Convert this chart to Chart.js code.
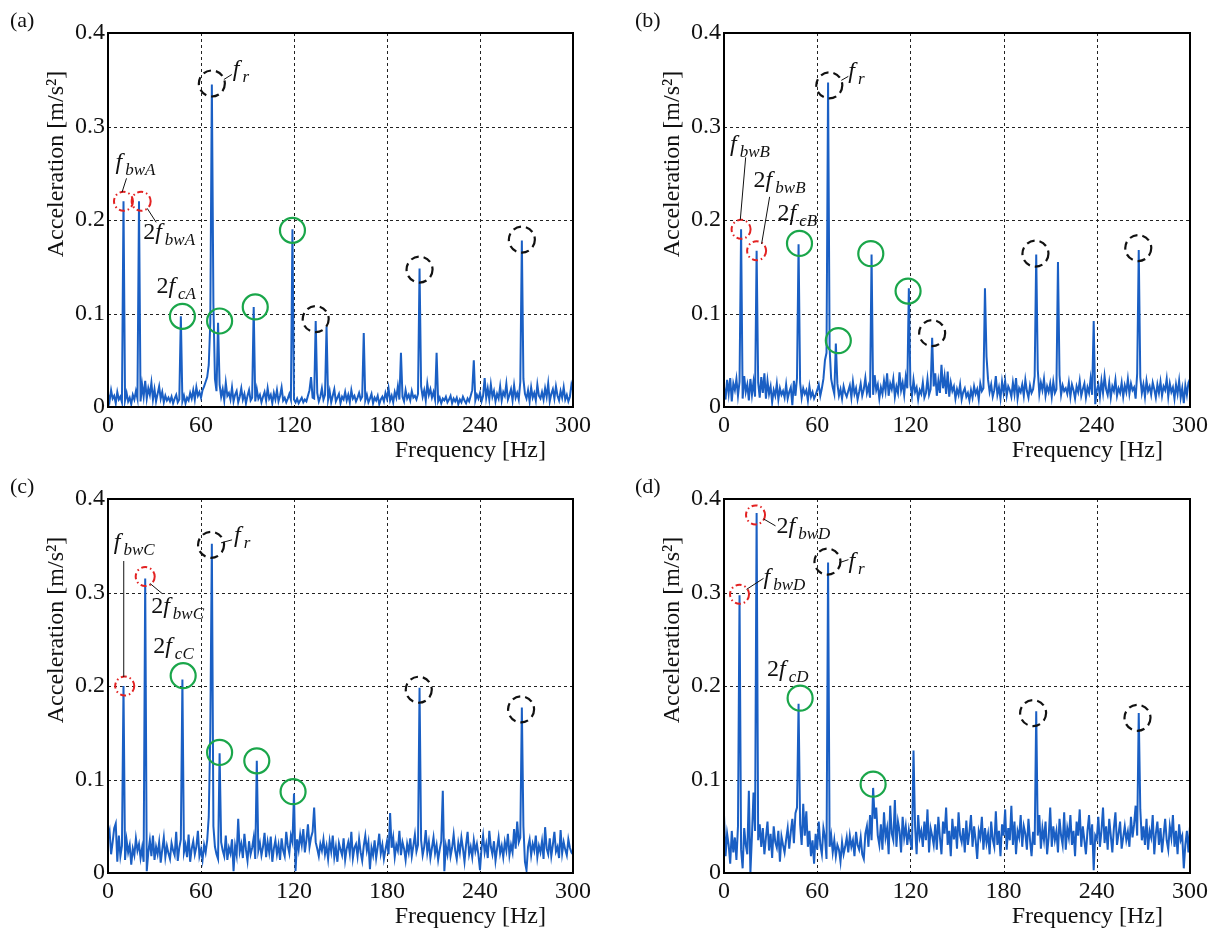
<!DOCTYPE html>
<html>
<head>
<meta charset="utf-8">
<script src="https://cdn.jsdelivr.net/npm/chart.js@4.4.0/dist/chart.umd.min.js"></script>
<style>
  body { margin: 0; background: #fff; width: 1220px; height: 932px; overflow: hidden; position: relative; }
  canvas { position: absolute; }
</style>
</head>
<body>
<canvas id="pa"></canvas>
<canvas id="pb"></canvas>
<canvas id="pc"></canvas>
<canvas id="pd"></canvas>
<script>
// ── spectrum data ─────────────────────────────────────────
// noise floor in 1 Hz bins, 0..300 Hz, unit 1e-3 m/s^2
const noiseA = [
  14,6,18,9,12,4,16,8,11,5,12,7,15,6,10,3,13,8,17,9,
  12,6,24,11,28,9,20,13,26,8,19,6,14,22,9,16,5,12,7,10,
  6,11,4,9,13,5,8,14,6,12,4,10,7,15,9,18,8,21,12,16,
  10,18,22,27,32,45,90,60,110,30,17,9,24,11,19,7,26,12,15,8,
  21,6,13,17,5,11,20,8,14,4,12,18,7,10,15,6,19,9,13,5,
  11,16,7,20,9,13,4,15,8,18,6,12,21,7,10,5,9,14,8,6,
  8,5,9,4,7,10,5,8,6,12,18,32,10,9,7,15,6,11,20,8,
  13,9,8,17,5,12,19,6,10,14,4,11,8,16,7,13,5,18,9,12,
  6,10,15,8,11,9,7,13,5,9,14,4,10,7,12,3,8,11,6,15,
  9,20,7,12,5,16,10,22,8,14,11,6,18,9,13,7,17,10,12,8,
  14,9,22,11,18,7,25,13,19,10,16,8,12,6,10,4,9,7,11,5,
  8,12,4,9,6,10,3,8,5,11,7,4,9,6,12,18,10,7,13,9,
  15,6,12,31,10,20,8,24,11,17,6,14,9,22,7,16,12,25,8,13,
  19,7,23,10,15,8,27,11,30,14,9,18,6,21,10,15,7,24,12,9,
  16,8,20,11,25,6,14,19,9,22,12,7,17,10,21,8,13,6,11,24,
  18
];
const noiseB = [
  22,8,29,14,31,6,25,18,30,12,27,20,9,33,16,24,7,30,13,27,
  11,19,26,10,32,15,36,9,28,14,22,5,18,12,25,8,20,13,17,10,
  24,9,16,21,2,28,12,31,15,26,10,20,14,18,7,22,11,16,9,13,
  18,24,12,20,30,50,58,40,62,30,21,14,30,25,12,19,9,22,15,11,
  17,23,10,27,14,20,8,16,25,12,19,31,15,22,10,27,13,34,18,24,
  9,21,14,28,17,36,12,25,19,30,11,22,15,37,18,26,13,32,20,16,
  24,12,29,16,21,8,18,14,26,10,15,30,13,19,17,22,36,12,28,15,
  45,20,33,14,38,11,26,17,22,9,19,13,24,8,16,20,11,15,7,18,
  10,22,14,19,8,25,17,20,20,54,29,16,24,11,18,33,13,21,9,27,
  15,28,12,22,18,11,26,14,31,9,20,16,24,12,29,17,10,23,15,19,
  33,21,40,14,26,18,30,12,22,16,25,11,27,15,19,21,34,13,23,17,
  20,14,26,11,24,18,9,22,16,28,12,19,25,10,21,15,30,13,22,3,
  18,24,11,28,15,33,19,13,26,10,22,17,29,12,20,15,26,11,23,16,
  30,14,25,18,21,9,36,28,32,15,24,11,28,17,22,13,26,19,10,24,
  15,27,12,22,18,30,11,25,16,21,9,24,14,28,10,20,4,23,13,26,
  30
];
const noiseC = [
  38,45,20,33,48,53,12,40,18,29,24,14,35,22,30,9,26,19,37,24,
  31,16,27,12,20,2,22,35,18,40,14,28,20,33,11,25,38,17,29,21,
  15,32,24,19,44,13,27,36,25,22,30,17,41,12,26,34,20,28,45,18,
  25,14,30,22,35,60,150,60,50,28,20,15,30,33,24,18,40,14,27,21,
  36,2,29,19,58,23,31,16,42,25,13,34,20,27,38,15,25,24,32,19,
  28,43,17,33,22,39,12,26,35,20,30,14,37,24,18,44,29,21,40,33,
  30,2,36,25,41,30,47,22,35,52,28,38,44,70,33,26,18,31,24,36,
  20,29,15,34,23,40,17,28,12,32,25,19,37,14,26,33,21,44,16,27,
  31,18,36,22,13,29,40,24,33,4,27,19,35,16,28,42,21,30,15,25,
  34,20,64,27,38,17,30,24,45,19,33,26,14,31,22,37,18,29,41,23,
  30,20,35,19,28,46,22,33,16,27,38,21,30,14,25,34,20,2,29,20,
  36,18,27,41,24,15,32,22,38,26,12,30,44,20,28,17,35,23,31,19,
  3,27,40,22,31,16,45,28,20,34,13,26,38,21,29,17,33,24,42,19,
  30,22,47,26,55,33,38,40,50,12,3,28,36,19,31,24,40,17,29,22,
  34,15,49,26,20,37,18,30,44,23,28,16,46,21,33,25,19,36,27,22,
  20
];
const noiseD = [
  62,18,42,30,10,45,22,38,14,50,30,25,5,48,30,20,88,0,40,86,
  45,35,35,52,28,48,20,38,55,24,42,16,50,33,27,45,12,39,30,22,
  36,48,26,44,58,32,64,70,60,52,30,74,40,66,28,45,18,35,10,42,
  25,55,30,20,48,38,15,40,28,40,22,35,18,30,25,12,33,20,28,38,
  22,40,28,35,18,44,30,25,38,20,15,42,50,28,62,35,40,58,70,40,
  30,52,25,65,38,48,20,72,42,35,78,28,55,45,22,60,38,50,30,46,
  34,25,40,50,20,62,38,45,28,55,35,68,22,48,40,30,52,25,60,38,
  20,55,42,70,30,45,18,58,36,50,26,65,40,33,48,22,56,30,44,62,
  28,50,35,15,45,38,60,25,48,32,42,20,55,36,28,66,30,45,18,52,
  40,68,25,48,35,72,30,55,20,45,38,62,28,50,42,25,58,35,18,44,
  30,40,40,62,26,48,35,55,20,38,70,28,50,35,45,22,58,40,30,65,
  25,48,38,62,30,45,18,55,40,68,28,50,35,20,45,62,30,52,3,40,
  36,60,28,45,70,32,50,25,58,40,22,48,65,30,42,55,26,38,50,35,
  44,28,60,38,52,72,40,40,68,35,50,30,58,25,45,38,62,20,42,55,
  30,48,22,40,58,35,25,50,38,62,28,45,20,52,35,40,5,30,45,22,
  50
];

// spectral lines: [frequency Hz, amplitude m/s^2]
const peaksA = [[10,0.22],[20,0.22],[47,0.097],[67,0.345],[71,0.09],[94,0.107],[119,0.19],
  [134,0.092],[141,0.086],[165,0.079],[189,0.058],[201,0.148],[212,0.058],[236,0.05],[267,0.178]];
const peaksB = [[11,0.19],[21,0.167],[48,0.174],[67,0.347],[72,0.068],[95,0.163],[119,0.127],
  [134,0.074],[168,0.127],[201,0.163],[215,0.155],[238,0.092],[267,0.168]];
const peaksC = [[10,0.2],[24,0.315],[48,0.207],[67,0.352],[72,0.128],[96,0.12],[120,0.085],
  [201,0.198],[216,0.088],[267,0.177]];
const peaksD = [[10,0.297],[21,0.385],[48,0.181],[67,0.332],[96,0.091],[122,0.131],
  [201,0.173],[267,0.171]];

// circled components: [Hz, m/s^2]
const redA = [[10,0.22],[21.4,0.22]];
const greenA = [[48,0.097],[72,0.092],[95,0.107],[119,0.189]];
const blackA = [[67,0.346],[134,0.094],[201,0.147],[267,0.179]];
const redB = [[11,0.19],[21,0.167]];
const greenB = [[48.6,0.175],[73.6,0.071],[94.5,0.164],[118.5,0.124]];
const blackB = [[67.8,0.344],[134,0.079],[200.5,0.164],[266.7,0.17]];
const redC = [[10.8,0.2],[24,0.317]];
const greenC = [[48.5,0.211],[72,0.129],[96,0.12],[119.4,0.087]];
const blackC = [[66.5,0.351],[200.5,0.196],[266.5,0.175]];
const redD = [[10,0.298],[20.3,0.383]];
const greenD = [[49,0.187],[96,0.095]];
const blackD = [[66.6,0.333],[199,0.171],[266.2,0.166]];

const xTicks = [0, 60, 120, 180, 240, 300];
const yTicks = [0, 0.1, 0.2, 0.3, 0.4];

// ── layout / text annotations (px offsets from circle centre) ──
const labelsA = [
  { at: [10,0.22], pre: '', sub: 'bwA', dx: -8, dy: -32, lead: [3,-23,-1.5,-9] },
  { at: [21.4,0.22], pre: '2', sub: 'bwA', dx: 2, dy: 38, lead: [6,7,15,21] },
  { at: [48,0.097], pre: '2', sub: 'cA', dx: -26, dy: -23 },
  { at: [67,0.346], pre: '', sub: 'r', dx: 21, dy: -7, lead: [12,-4,20,-9] }
];
const labelsB = [
  { at: [11,0.19], pre: '', sub: 'bwB', dx: -11, dy: -78, lead: [4.6,-72,-0.8,-9.5] },
  { at: [21,0.167], pre: '2', sub: 'bwB', dx: -3, dy: -64, lead: [13,-54,5,-7] },
  { at: [48.6,0.175], pre: '2', sub: 'cB', dx: -22, dy: -23 },
  { at: [67.8,0.344], pre: '', sub: 'r', dx: 19, dy: -7, lead: [12,-5,19,-9] }
];
const labelsC = [
  { at: [10.8,0.2], pre: '', sub: 'bwC', dx: -11, dy: -137, lead: [-1,-125,-1,-9] },
  { at: [24,0.317], pre: '2', sub: 'bwC', dx: 6, dy: 36, lead: [5,7,17,17] },
  { at: [48.5,0.211], pre: '2', sub: 'cC', dx: -30, dy: -23 },
  { at: [66.5,0.351], pre: '', sub: 'r', dx: 23, dy: -3, lead: [10,-2,21,-5] }
];
const labelsD = [
  { at: [20.3,0.383], pre: '2', sub: 'bwD', dx: 21, dy: 18, lead: [8,4,20,11] },
  { at: [10,0.298], pre: '', sub: 'bwD', dx: 24, dy: -10, lead: [7,-5,24,-16] },
  { at: [49,0.187], pre: '2', sub: 'cD', dx: -33, dy: -22 },
  { at: [66.6,0.333], pre: '', sub: 'r', dx: 21, dy: 6, lead: [12,1,21,-2] }
];

const panels = {
  pa: { tag: '(a)', left: 108, top: 33, width: 465, tagDx: -98, noise: noiseA, peaks: peaksA,
        red: redA, green: greenA, black: blackA, labels: labelsA },
  pb: { tag: '(b)', left: 724, top: 33, width: 466, tagDx: -89, noise: noiseB, peaks: peaksB,
        red: redB, green: greenB, black: blackB, labels: labelsB },
  pc: { tag: '(c)', left: 108, top: 499, width: 465, tagDx: -98, noise: noiseC, peaks: peaksC,
        red: redC, green: greenC, black: blackC, labels: labelsC },
  pd: { tag: '(d)', left: 724, top: 499, width: 466, tagDx: -89, noise: noiseD, peaks: peaksD,
        red: redD, green: greenD, black: blackD, labels: labelsD }
};

const PLOT_H = 374, AXIS_W = 108, AXIS_H = 60, PAD_R = 35;
const SERIF = '"Liberation Serif", "Times New Roman", serif';
Chart.defaults.font.family = SERIF;

function buildSeries(noise, peaks) {
  const pts = noise.map((v, i) => ({ x: i, y: v / 1000 }));
  peaks.forEach(([f, a]) => { pts[f].y = a; });
  return pts;
}

function drawLabel(ctx, x, y, pre, sub) {
  ctx.fillStyle = '#111';
  ctx.textAlign = 'left';
  ctx.textBaseline = 'alphabetic';
  let cx = x;
  if (pre) {
    ctx.font = '24px ' + SERIF;
    ctx.fillText(pre, cx, y);
    cx += ctx.measureText(pre).width;
  }
  ctx.font = 'italic 24px ' + SERIF;
  ctx.fillText('f', cx, y);
  cx += ctx.measureText('f').width + 3;
  ctx.font = 'italic 17px ' + SERIF;
  ctx.fillText(sub, cx, y + 6);
}

function circles(ctx, xs, ys, list, r, color, width, dash) {
  ctx.save();
  ctx.strokeStyle = color;
  ctx.lineWidth = width;
  ctx.setLineDash(dash);
  list.forEach(([f, v]) => {
    ctx.beginPath();
    ctx.arc(xs.getPixelForValue(f), ys.getPixelForValue(v), r, 0, Math.PI * 2);
    ctx.stroke();
  });
  ctx.restore();
}

const decorate = {
  id: 'decorate',
  beforeDatasetsDraw(chart) {
    const { ctx, chartArea: a, scales: { x, y } } = chart;
    ctx.save();
    ctx.strokeStyle = '#222';
    ctx.lineWidth = 1;
    ctx.setLineDash([3, 3]);
    xTicks.slice(1, -1).forEach(v => {
      const px = Math.round(x.getPixelForValue(v)) + 0.5;
      ctx.beginPath(); ctx.moveTo(px, a.top); ctx.lineTo(px, a.bottom); ctx.stroke();
    });
    yTicks.slice(1, -1).forEach(v => {
      const py = Math.round(y.getPixelForValue(v)) + 0.5;
      ctx.beginPath(); ctx.moveTo(a.left, py); ctx.lineTo(a.right, py); ctx.stroke();
    });
    ctx.restore();
  },
  afterDatasetsDraw(chart) {
    const p = panels[chart.canvas.id];
    const { ctx, chartArea: a, scales: { x, y } } = chart;

    // frame
    ctx.save();
    ctx.strokeStyle = '#000';
    ctx.lineWidth = 2;
    ctx.strokeRect(a.left, a.top, a.right - a.left, a.bottom - a.top);
    ctx.restore();

    circles(ctx, x, y, p.green, 12.5, '#1aa64a', 2.2, []);
    circles(ctx, x, y, p.black, 13, '#111', 2.2, [8, 5]);
    circles(ctx, x, y, p.red, 9.5, '#e32222', 2, [6, 3, 1.5, 3]);

    // component labels with leader lines
    p.labels.forEach(l => {
      const cx = x.getPixelForValue(l.at[0]);
      const cy = y.getPixelForValue(l.at[1]);
      if (l.lead) {
        ctx.save();
        ctx.strokeStyle = '#111';
        ctx.lineWidth = 1;
        ctx.beginPath();
        ctx.moveTo(cx + l.lead[0], cy + l.lead[1]);
        ctx.lineTo(cx + l.lead[2], cy + l.lead[3]);
        ctx.stroke();
        ctx.restore();
      }
      drawLabel(ctx, cx + l.dx, cy + l.dy, l.pre, l.sub);
    });

    // axis titles and panel tag
    ctx.save();
    ctx.fillStyle = '#111';
    ctx.font = '24px ' + SERIF;
    ctx.textAlign = 'right';
    ctx.textBaseline = 'alphabetic';
    ctx.fillText('Frequency [Hz]', a.right - 27, a.bottom + 50);
    ctx.textAlign = 'left';
    ctx.font = '22px ' + SERIF;
    ctx.fillText(p.tag, a.left + p.tagDx, a.top - 6);
    ctx.translate(a.left - 45, a.top + 131);
    ctx.rotate(-Math.PI / 2);
    ctx.textAlign = 'center';
    ctx.font = '24px ' + SERIF;
    ctx.fillText('Acceleration [m/s\u00B2]', 0, 0);
    ctx.restore();
  }
};

Object.entries(panels).forEach(([id, p]) => {
  const cv = document.getElementById(id);
  cv.width = AXIS_W + p.width + PAD_R;
  cv.height = p.top + PLOT_H + AXIS_H - (p.top > 300 ? 466 : 0);
  cv.style.left = (p.left - AXIS_W) + 'px';
  cv.style.top = (p.top > 300 ? 466 : 0) + 'px';
  const padTop = p.top > 300 ? p.top - 466 : p.top;

  new Chart(cv, {
    type: 'line',
    data: {
      datasets: [{
        data: buildSeries(p.noise, p.peaks),
        borderColor: '#1a5fc4',
        borderWidth: 2,
        pointRadius: 0,
        tension: 0
      }]
    },
    options: {
      responsive: false,
      animation: false,
      parsing: false,
      layout: { padding: { top: padTop, right: PAD_R, left: 0, bottom: 0 } },
      plugins: { legend: { display: false }, tooltip: { enabled: false } },
      scales: {
        x: {
          type: 'linear', min: 0, max: 300,
          afterBuildTicks: s => { s.ticks = xTicks.map(v => ({ value: v })); },
          afterFit: s => { s.height = AXIS_H; },
          grid: { display: false, drawTicks: false },
          border: { display: false },
          ticks: { padding: 4, color: '#111', font: { size: 24 }, maxRotation: 0, autoSkip: false,
                   callback: v => String(v) }
        },
        y: {
          type: 'linear', min: 0, max: 0.4,
          afterBuildTicks: s => { s.ticks = yTicks.map(v => ({ value: v })); },
          afterFit: s => { s.width = AXIS_W; },
          grid: { display: false, drawTicks: false },
          border: { display: false },
          ticks: { padding: 3, color: '#111', font: { size: 24 }, autoSkip: false,
                   callback: v => v === 0 ? '0' : v.toFixed(1) }
        }
      }
    },
    plugins: [decorate]
  });
});
</script>
</body>
</html>
